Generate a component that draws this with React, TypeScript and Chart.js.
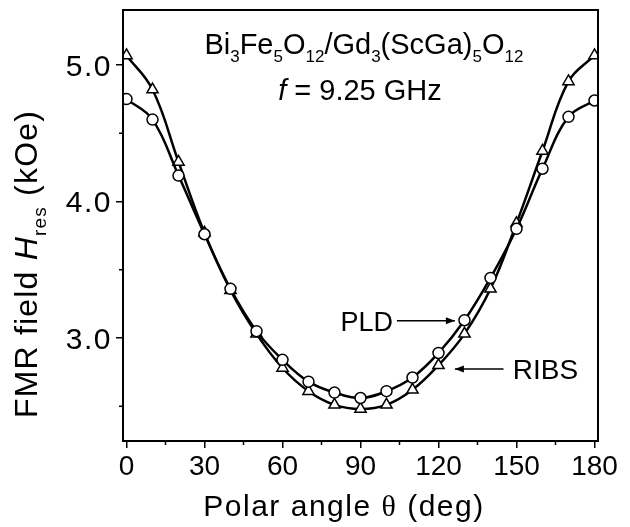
import React, { useEffect, useRef } from 'react';
import { Chart, registerables } from 'chart.js';

Chart.register(...registerables);

// ---- data ----
const angles = [0, 10, 20, 30, 40, 50, 60, 70, 80, 90, 100, 110, 120, 130, 140, 150, 160, 170, 180];
const pldField = [4.75, 4.60, 4.19, 3.76, 3.36, 3.05, 2.84, 2.68, 2.60, 2.56, 2.61, 2.71, 2.89, 3.13, 3.44, 3.80, 4.24, 4.62, 4.74];
const ribsField = [5.07, 4.82, 4.29, 3.77, 3.35, 3.03, 2.78, 2.61, 2.51, 2.48, 2.51, 2.62, 2.80, 3.03, 3.36, 3.84, 4.37, 4.88, 5.07];
const xTicks = [0, 30, 60, 90, 120, 150, 180];
const xMinorTicks = [15, 45, 75, 105, 135, 165];
const yTicks = [3.0, 4.0, 5.0];
const yMinorTicks = [2.5, 3.5, 4.5];
const xRange = [-1.35, 181.35];
const yRange = [2.245, 5.403];

const SANS = "'Liberation Sans', Arial, Helvetica, sans-serif";
const SERIF = "'Liberation Serif', 'Times New Roman', serif";

type Seg = { t: string; size: number; italic?: boolean; dy?: number; family?: string };

function segFont(s: Seg) {
  return `${s.italic ? 'italic ' : ''}${s.size}px ${s.family || SANS}`;
}

function drawRich(ctx: CanvasRenderingContext2D, segs: Seg[], x: number, y: number, align: 'left' | 'center' | 'right', spacing = 0) {
  ctx.save();
  ctx.textBaseline = 'alphabetic';
  ctx.textAlign = 'left';
  (ctx as any).letterSpacing = `${spacing}px`;
  let total = 0;
  const widths = segs.map((s) => {
    ctx.font = segFont(s);
    const w = ctx.measureText(s.t).width;
    total += w;
    return w;
  });
  let cx = align === 'left' ? x : align === 'center' ? x - total / 2 : x - total;
  segs.forEach((s, i) => {
    ctx.font = segFont(s);
    ctx.fillText(s.t, cx, y + (s.dy || 0));
    cx += widths[i];
  });
  ctx.restore();
}

function arrow(ctx: CanvasRenderingContext2D, x1: number, y1: number, x2: number, y2: number) {
  ctx.save();
  ctx.strokeStyle = '#000';
  ctx.fillStyle = '#000';
  ctx.lineWidth = 1.5;
  ctx.beginPath();
  ctx.moveTo(x1, y1);
  ctx.lineTo(x2, y2);
  ctx.stroke();
  const a = Math.atan2(y2 - y1, x2 - x1);
  const L = 9, W = 3.5;
  ctx.beginPath();
  ctx.moveTo(x2, y2);
  ctx.lineTo(x2 - L * Math.cos(a) + W * Math.sin(a), y2 - L * Math.sin(a) - W * Math.cos(a));
  ctx.lineTo(x2 - L * Math.cos(a) - W * Math.sin(a), y2 - L * Math.sin(a) + W * Math.cos(a));
  ctx.closePath();
  ctx.fill();
  ctx.restore();
}

const decorPlugin = {
  id: 'decor',
  afterDraw(chart: any) {
    const ctx: CanvasRenderingContext2D = chart.ctx;
    const { left, right, top, bottom } = chart.chartArea;
    const xs = chart.scales.x;
    const ys = chart.scales.y;
    ctx.save();
    // frame
    ctx.strokeStyle = '#000';
    ctx.lineWidth = 2;
    ctx.strokeRect(left, top, right - left, bottom - top);
    // minor ticks
    ctx.lineWidth = 1.5;
    ctx.beginPath();
    xMinorTicks.forEach((v) => {
      const px = xs.getPixelForValue(v);
      ctx.moveTo(px, bottom);
      ctx.lineTo(px, bottom + 4);
    });
    yMinorTicks.forEach((v) => {
      const py = ys.getPixelForValue(v);
      ctx.moveTo(left, py);
      ctx.lineTo(left - 4, py);
    });
    ctx.stroke();
    ctx.fillStyle = '#000';

    // y tick labels
    yTicks.forEach((v) => {
      drawRich(ctx, [{ t: v.toFixed(1), size: 30 }], left - 11, ys.getPixelForValue(v) + 11, 'right', 1.5);
    });

    // annotation
    const big = 29, sub = 17, sdy = 8;
    drawRich(ctx, [
      { t: 'Bi', size: big }, { t: '3', size: sub, dy: sdy },
      { t: 'Fe', size: big }, { t: '5', size: sub, dy: sdy },
      { t: 'O', size: big }, { t: '12', size: sub, dy: sdy },
      { t: '/Gd', size: big }, { t: '3', size: sub, dy: sdy },
      { t: '(ScGa)', size: big }, { t: '5', size: sub, dy: sdy },
      { t: 'O', size: big }, { t: '12', size: sub, dy: sdy },
    ], xs.getPixelForValue(91.3), ys.getPixelForValue(5.08), 'center');
    drawRich(ctx, [
      { t: 'f', size: big, italic: true },
      { t: ' = 9.25 GHz', size: big },
    ], xs.getPixelForValue(89.8), ys.getPixelForValue(4.744), 'center');

    // PLD label + arrow
    const pldY = ys.getPixelForValue(3.127);
    drawRich(ctx, [{ t: 'PLD', size: 27 }], xs.getPixelForValue(102.5), ys.getPixelForValue(3.05), 'right');
    arrow(ctx, xs.getPixelForValue(104), pldY, xs.getPixelForValue(126.3), pldY);
    // RIBS label + arrow
    const ribsY = ys.getPixelForValue(2.773);
    drawRich(ctx, [{ t: 'RIBS', size: 28 }], xs.getPixelForValue(148.6), ys.getPixelForValue(2.70), 'left');
    arrow(ctx, xs.getPixelForValue(145), ribsY, xs.getPixelForValue(126.3), ribsY);

    // x title
    drawRich(ctx, [
      { t: 'Polar angle ', size: 30 },
      { t: 'θ', size: 30, family: SERIF },
      { t: ' (deg)', size: 30 },
    ], 344, 516, 'center', 1.5);

    // y title
    ctx.save();
    ctx.translate(37, 264);
    ctx.rotate(-Math.PI / 2);
    drawRich(ctx, [
      { t: 'FMR field ', size: 32 },
      { t: 'H', size: 32, italic: true },
      { t: 'res', size: 19, dy: 9 },
      { t: ' (kOe)', size: 32 },
    ], 0, 0, 'center', 1.2);
    ctx.restore();
    ctx.restore();
  },
};

export default function App() {
  const ref = useRef<HTMLCanvasElement>(null);
  useEffect(() => {
    if (!ref.current) return;
    const chart = new Chart(ref.current, {
      type: 'line',
      data: {
        datasets: [
          {
            label: 'PLD',
            data: angles.map((a, i) => ({ x: a, y: pldField[i] })),
            borderColor: '#000',
            borderWidth: 2.5,
            pointStyle: 'circle',
            pointRadius: 5.5,
            pointBorderWidth: 1.5,
            pointBackgroundColor: '#fff',
            pointBorderColor: '#000',
            tension: 0.4,
          },
          {
            label: 'RIBS',
            data: angles.map((a, i) => ({ x: a, y: ribsField[i] })),
            borderColor: '#000',
            borderWidth: 2.5,
            pointStyle: 'triangle',
            pointRadius: 6.5,
            pointBorderWidth: 1.5,
            pointBackgroundColor: '#fff',
            pointBorderColor: '#000',
            tension: 0.4,
          },
        ],
      },
      options: {
        animation: false,
        responsive: false,
        devicePixelRatio: 1,
        layout: { padding: { top: 10, right: 32, left: 0, bottom: 0 } },
        plugins: { legend: { display: false }, tooltip: { enabled: false } },
        scales: {
          x: {
            type: 'linear',
            min: xRange[0],
            max: xRange[1],
            afterBuildTicks: (s: any) => { s.ticks = xTicks.map((v) => ({ value: v })); },
            afterFit: (s: any) => { s.height = 86; s.paddingLeft = 0; s.paddingRight = 0; },
            ticks: {
              color: '#000',
              font: { family: SANS, size: 28 },
              padding: 2,
              maxRotation: 0,
              autoSkip: false,
              callback: (v: any) => String(Math.round(Number(v))),
            },
            grid: { display: true, drawOnChartArea: false, drawTicks: true, tickLength: 7, color: '#000', lineWidth: 1.5 },
            border: { display: false },
          },
          y: {
            type: 'linear',
            min: yRange[0],
            max: yRange[1],
            afterBuildTicks: (s: any) => { s.ticks = yTicks.map((v) => ({ value: v })); },
            afterFit: (s: any) => { s.width = 123; s.paddingTop = 0; s.paddingBottom = 0; },
            ticks: {
              display: false,
              autoSkip: false,
            },
            grid: { display: true, drawOnChartArea: false, drawTicks: true, tickLength: 7, color: '#000', lineWidth: 1.5 },
            border: { display: false },
          },
        },
      },
      plugins: [decorPlugin],
    });
    return () => chart.destroy();
  }, []);
  return (
    <div style={{ position: 'fixed', left: 0, top: 0, width: 630, height: 527, background: '#fff' }}>
      <canvas ref={ref} width={630} height={527} />
    </div>
  );
}
